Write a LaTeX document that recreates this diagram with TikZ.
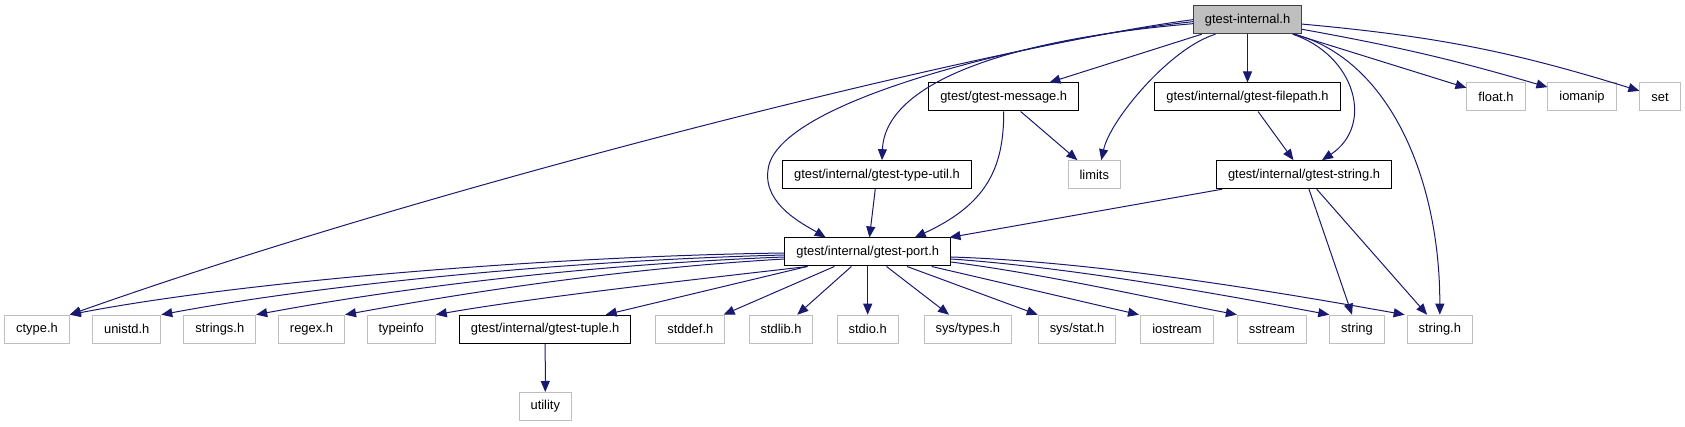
\documentclass[tikz,border=0pt]{standalone}
\usepackage{fontspec}
\setmainfont{Liberation Sans}
\usetikzlibrary{arrows.meta}
\definecolor{depblue}{HTML}{191970}
\definecolor{extgrey}{HTML}{BFBFBF}
\definecolor{maingrey}{HTML}{BFBFBF}
\definecolor{maindark}{HTML}{404040}
\tikzset{
    file/.style={draw=black, line width=1pt, fill=white, minimum height=28pt,
                 inner xsep=11.5pt, inner ysep=0pt, font=\fontsize{12.9}{15}\selectfont},
    sysfile/.style={file, draw=extgrey},
    mainfile/.style={file, draw=maindark, fill=maingrey},
    dep/.style={->, draw=depblue, line width=1pt}
}

\begin{document}
\begin{tikzpicture}[x=1pt, y=-1pt, >={Triangle[length=11pt,width=9pt]}]
  \useasboundingbox (0,0) rectangle (1685,427);

  % rank 0 and 1
  \node[mainfile] (gi)      at (1247.5,19.7) {gtest-internal.h};
  \node[file]     (msg)     at (1003.7,97)   {gtest/gtest-message.h};
  \node[file]     (fpath)   at (1247.5,97)   {gtest/internal/gtest-filepath.h};
  \node[sysfile]  (floath)  at (1496,97)     {float.h};
  \node[sysfile]  (iomanip) at (1582,97)     {iomanip};
  \node[sysfile]  (set)     at (1660,97)     {set};

  % rank 2 and 3
  \node[file]     (tutil)   at (877,174.7)   {gtest/internal/gtest-type-util.h};
  \node[sysfile]  (limits)  at (1094.3,174.7){limits};
  \node[file]     (gstr)    at (1304,174.7)  {gtest/internal/gtest-string.h};
  \node[file]     (port)    at (867.7,252)   {gtest/internal/gtest-port.h};

  % rank 4
  \node[sysfile]  (ctype)    at (37,329.2)    {ctype.h};
  \node[sysfile]  (unistd)   at (126.7,329.2) {unistd.h};
  \node[sysfile]  (strings)  at (219.8,329.2) {strings.h};
  \node[sysfile]  (regex)    at (311.5,329.2) {regex.h};
  \node[sysfile]  (typeinfo) at (401.2,329.2) {typeinfo};
  \node[file]     (tuple)    at (545.2,329.2) {gtest/internal/gtest-tuple.h};
  \node[sysfile]  (stddef)   at (690.3,329.2) {stddef.h};
  \node[sysfile]  (stdlib)   at (781,329.2)   {stdlib.h};
  \node[sysfile]  (stdio)    at (867.7,329.2) {stdio.h};
  \node[sysfile]  (systypes) at (967.8,329.2) {sys/types.h};
  \node[sysfile]  (sysstat)  at (1077,329.2)  {sys/stat.h};
  \node[sysfile]  (iostream) at (1177,329.2)  {iostream};
  \node[sysfile]  (sstream)  at (1271.8,329.2){sstream};
  \node[sysfile]  (string)   at (1357,329.2)  {string};
  \node[sysfile]  (stringh)  at (1439.8,329.2){string.h};
  \node[sysfile]  (utility)  at (545.3,406.5) {utility};

  % gtest-internal.h
  \draw[dep] (gi.west) .. controls (1000,45) and (450,180) .. (ctype.north east);
  \draw[dep] ([yshift=-2]gi.west) .. controls (1040,38) and (775,100) .. (768,170)
             .. controls (763,205) and (805,225) .. ([xshift=-42]port.north);
  \draw[dep] ([yshift=-4]gi.west) .. controls (1000,40) and (885,85) .. ([xshift=5]tutil.north);
  \draw[dep] (gi) -- (msg);
  \draw[dep] ([xshift=-32]gi.south) .. controls (1170,48) and (1110,120) .. ([xshift=7]limits.north);
  \draw[dep] (gi) -- (fpath);
  \draw[dep] ([xshift=45]gi.south) .. controls (1355,55) and (1375,125) .. ([xshift=18]gstr.north);
  \draw[dep] ([xshift=47]gi.south) .. controls (1390,60) and (1440,180) .. (stringh.north);
  \draw[dep] (gi) -- (floath);
  \draw[dep] (gi) to[bend left=3] (iomanip);
  \draw[dep] (gi) to[bend left=6] (set);

  % second level
  \draw[dep] (msg) -- (limits);
  \draw[dep] (msg.south) .. controls (1004,170) and (985,205) .. ([xshift=47]port.north);
  \draw[dep] (tutil) -- (port);
  \draw[dep] (fpath) -- (gstr);
  \draw[dep] (gstr) -- (port);
  \draw[dep] (gstr) -- (string);
  \draw[dep] (gstr) -- (stringh);

  % gtest-port.h
  \draw[dep] ([yshift=-1]port.west) .. controls (560,256) and (250,280) .. (ctype.north east);
  \draw[dep] ([yshift=-3]port.west) .. controls (580,260) and (330,283) .. (unistd.north east);
  \draw[dep] ([yshift=-5]port.west) .. controls (600,264) and (410,286) .. (strings.north east);
  \draw[dep] ([yshift=-7]port.west) .. controls (630,268) and (480,290) .. (regex.north east);
  \draw[dep] ([xshift=-60]port.south) .. controls (690,280) and (530,298) .. (typeinfo.north east);
  \draw[dep] (port) -- (tuple);
  \draw[dep] (port) -- (stddef);
  \draw[dep] (port) -- (stdlib);
  \draw[dep] (port) -- (stdio);
  \draw[dep] (port) -- (systypes);
  \draw[dep] (port) -- (sysstat);
  \draw[dep] ([xshift=64]port.south) -- ([xshift=-38]iostream.north);
  \draw[dep] ([yshift=-10]port.east) .. controls (1050,275) and (1150,298) .. (sstream.north west);
  \draw[dep] ([yshift=-7]port.east) .. controls (1080,268) and (1240,298) .. (string.north west);
  \draw[dep] ([yshift=-5]port.east) .. controls (1110,262) and (1310,298) .. ([xshift=-2]stringh.north west);
  \draw[dep] (tuple) -- (utility);
\end{tikzpicture}
\end{document}
